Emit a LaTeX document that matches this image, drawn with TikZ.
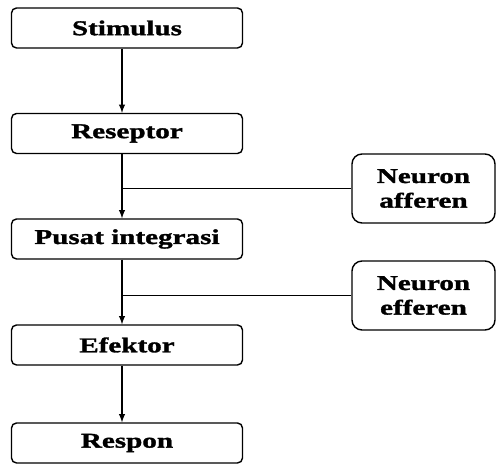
\documentclass[tikz,border=0pt]{standalone}
\usepackage{fontspec}
\setmainfont{Liberation Serif}[FakeStretch=1.38,BoldFeatures={FakeBold=1.5}]
\usepackage{tikz}
\usetikzlibrary{arrows,positioning,shapes}

\begin{document}
\begin{tikzpicture}
[-,semithick,
kotak/.style={draw,thick,rounded corners=0.1cm,minimum width=4.62cm,
	minimum height=0.8cm,inner sep=1pt,font=\fontsize{12}{14}\selectfont\bfseries},
neuron/.style={draw,thick,rounded corners=0.2cm,minimum width=2.86cm,
	minimum height=1.38cm,inner sep=1pt,align=center,
	font=\fontsize{12}{14}\selectfont\bfseries}]
\useasboundingbox (0,0) rectangle (9.92,-9.28);
\coordinate (sp) at (2.44,0);
%%
\node[kotak] (stim) at (2.54,-0.56) {Stimulus};
\node[kotak] (resep) at (2.54,-2.67) {Reseptor};
\node[kotak] (pusat) at (2.54,-4.78) {Pusat integrasi};
\node[kotak] (efek) at (2.54,-6.90) {Efektor};
\node[kotak] (resp) at (2.54,-8.86) {Respon};
%%
\node[neuron] (aff) at (8.47,-3.77) {Neuron\\afferen};
\node[neuron] (eff) at (8.47,-5.91) {Neuron\\efferen};
\path
\foreach \dari/\ke in {stim/resep,resep/pusat,pusat/efek,efek/resp}
{
	(\dari.south -| sp) edge[-latex] (\ke.north -| sp)
};
\draw (aff.west) -- (aff.west -| sp);
\draw (eff.west) -- (eff.west -| sp);
\end{tikzpicture}
\end{document}
